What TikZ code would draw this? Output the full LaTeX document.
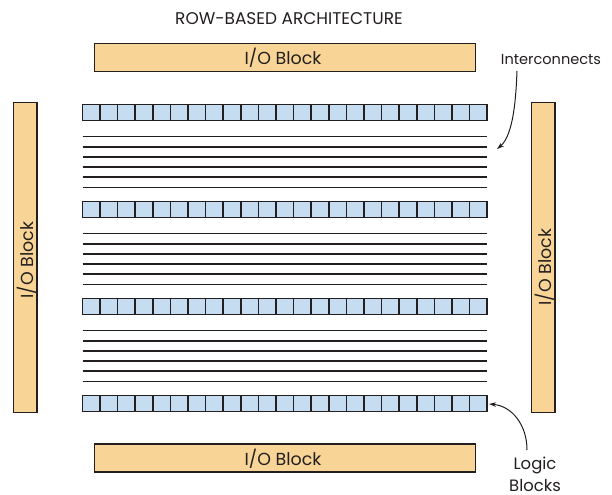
\documentclass[tikz,border=0pt]{standalone}
\usepackage{fontspec}
\setmainfont{Poppins}
\usetikzlibrary{arrows.meta,calc}
\definecolor{ioorange}{HTML}{F8D596}
\definecolor{cellblue}{HTML}{C6DCF0}
\definecolor{ink}{HTML}{231F20}
\begin{document}
\begin{tikzpicture}[x=1bp,y=-1bp,
  iobox/.style={draw=ink,line width=1.6bp,fill=ioorange,inner sep=0,outer sep=0},
  cell/.style={draw=ink,line width=1.6bp,fill=cellblue,minimum width=17.59bp,
    minimum height=16bp,inner sep=0,outer sep=0,anchor=north west},
  wire/.style={draw=ink,line width=1.7bp},
  lbl/.style={text=ink,inner sep=0,font=\fontsize{16.5}{18}\selectfont},
  arr/.style={draw=ink,line width=1bp,-{Stealth[length=7bp,width=4.5bp]}}]
\useasboundingbox (0,0) rectangle (612,495);

% title
\node[lbl,font=\fontsize{17}{19}\selectfont] (title) at (289,19) {ROW-BASED ARCHITECTURE};

% I/O blocks around the array
\node[iobox,minimum width=381bp,minimum height=28bp] (iotop) at (285,57.5) {};
\node[lbl,font=\fontsize{17.5}{19}\selectfont] (iotoptxt) at (283,58) {I/O Block};
\node[iobox,minimum width=381bp,minimum height=28bp] (iobot) at (285,458) {};
\node[lbl,font=\fontsize{17.5}{19}\selectfont] (iobottxt) at (283,459) {I/O Block};
\node[iobox,minimum width=23.5bp,minimum height=310bp] (ioleft) at (25.25,257.5) {};
\node[lbl,font=\fontsize{17.5}{19}\selectfont,rotate=90] (iolefttxt) at (27,260) {I/O Block};
\node[iobox,minimum width=23.5bp,minimum height=310bp] (ioright) at (543.25,257.5) {};
\node[lbl,font=\fontsize{17.5}{19}\selectfont,rotate=90] (iorighttxt) at (545,267) {I/O Block};

% four rows of logic cells
\foreach \r in {0,...,3}
  \foreach \c in {0,...,22}
    \node[cell] (c\r-\c) at (82.5+17.59*\c,104.5+97*\r) {};

% routing channels between the rows
\foreach \r in {0,...,2}
  \foreach \j in {0,...,5}
    \draw[wire] (82.5,136.5+97*\r+10.2*\j) -- (487,136.5+97*\r+10.2*\j);

% callouts
\node[lbl,font=\fontsize{14.6}{16}\selectfont] (ic) at (551,59) {Interconnects};
\coordinate (icfrom) at (517,71);
\coordinate (icto) at (497,149);
\draw[arr] (icfrom) .. controls (516,95) and (514,135) .. (icto);

\node[lbl,align=center,anchor=south] (lb) at (535,492) {Logic\\[4bp]Blocks};
\coordinate (lbfrom) at (527,450);
\coordinate (lbto) at (489,404);
\draw[arr] (lbfrom) .. controls (527,425) and (512,406) .. (lbto);
\end{tikzpicture}
\end{document}
